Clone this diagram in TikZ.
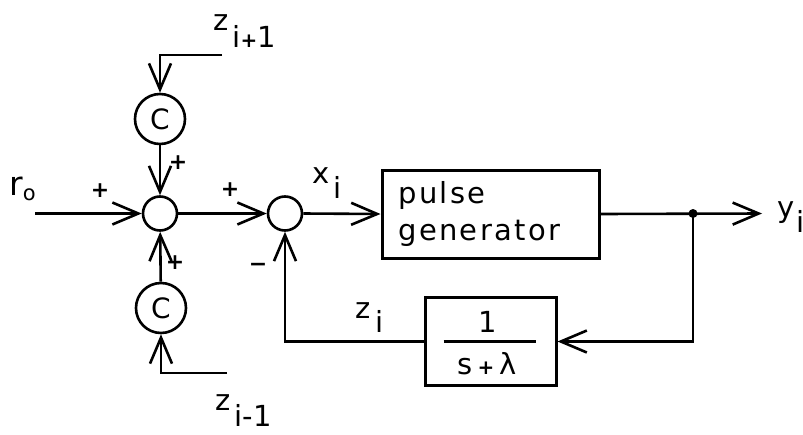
\documentclass[tikz,border=0pt]{standalone}
\usepackage{fontspec}
\setmainfont{DejaVu Sans}
\newfontfamily\spaced[LetterSpace=8]{DejaVu Sans}
\usetikzlibrary{arrows.meta}
\begin{document}
\begin{tikzpicture}[x=1pt,y=-1pt,
  line width=2.6pt,
  >={Straight Barb[length=26pt,width=22pt]},
  every node/.style={font=\fontsize{29}{37}\selectfont, inner sep=0pt},
  sumj/.style={circle, draw, minimum size=34pt},
  coef/.style={circle, draw, minimum size=50pt, font=\fontsize{28}{28}\selectfont},
  blockbox/.style={rectangle, draw, line width=3pt},
  lbl/.style={anchor=base west},
  sgn/.style={font=\fontsize{22}{22}\selectfont\bfseries}
]
\useasboundingbox (0,0) rectangle (803,434);

% blocks
\node[sumj] (s1) at (160,213.5) {};
\node[sumj] (s2) at (285,213.5) {};
\node[coef] (ct) at (160,119) {C};
\node[coef] (cb) at (161,308) {C};
\node[blockbox, minimum width=217pt, minimum height=88pt] (pg) at (490.5,214) {};
\node[anchor=west, align=left, font=\fontsize{29}{37}\spaced] (pgt) at (397,214) {pulse\\generator};
\node[blockbox, minimum width=131pt, minimum height=88pt] (fb) at (490.5,341.5) {};
\node (one) at (488,322) {1};
\node (slam) at (487,364) {s\hspace{5pt}{\fontsize{20}{20}\selectfont\bfseries+}\hspace{5pt}λ};
\draw ([xshift=-47pt]fb.center) -- ([xshift=45pt]fb.center);

% coordinates
\coordinate (jn) at (693,213.5);
\coordinate (yend) at (762,213.5);
\coordinate (r0s) at (35,213.5);
\coordinate (zt) at (222,55);
\coordinate (ztc) at (160,55);
\coordinate (zb) at (227,373);
\coordinate (zbc) at (161,373);

% connectors
\draw[->] (zt) -- (ztc) -- (ct);
\draw[->] (ct) -- (s1);
\draw[->] (cb) -- (s1);
\draw[->] (zb) -- (zbc) -- (cb);
\draw[->] (r0s) -- (s1);
\draw[->] (s1) -- (s2);
\draw[->] (s2.east) -- (pg.west);
\draw[->] (pg.east) -- (yend);
\fill (jn) circle (4.5pt);
\draw[->] (jn) -- (jn |- fb.east) -- (fb.east);
\draw[->] (fb.west) -- (s2 |- fb.west) -- (s2.south);

% labels
\node[lbl] (rlab) at (8,195) {{\fontsize{33}{33}\selectfont r}\raisebox{-5pt}{\fontsize{21}{21}\selectfont o}};
\node[lbl] (xlab) at (311,183) {x\hspace{4pt}\raisebox{-15pt}{i}};
\node[lbl] (zlab) at (354,318) {z\hspace{5pt}\raisebox{-14pt}{i}};
\node[lbl] (ylab) at (776,217) {y\hspace{2pt}\raisebox{-15pt}{i}};
\node[lbl] (ztlab) at (212,30) {z\hspace{4pt}\raisebox{-17pt}{i{\fontsize{20}{20}\selectfont\bfseries+}1}};
\node[lbl] (zblab) at (214,410) {z\hspace{4pt}\raisebox{-16pt}{i-1}};

% signs
\node[sgn] (p1) at (100,191) {+};
\node[sgn] (p2) at (178,163) {+};
\node[sgn] (p3) at (230,190) {+};
\node[sgn] (p4) at (175,263) {+};
\node[sgn] (m1) at (258,267) {−};
\end{tikzpicture}
\end{document}
